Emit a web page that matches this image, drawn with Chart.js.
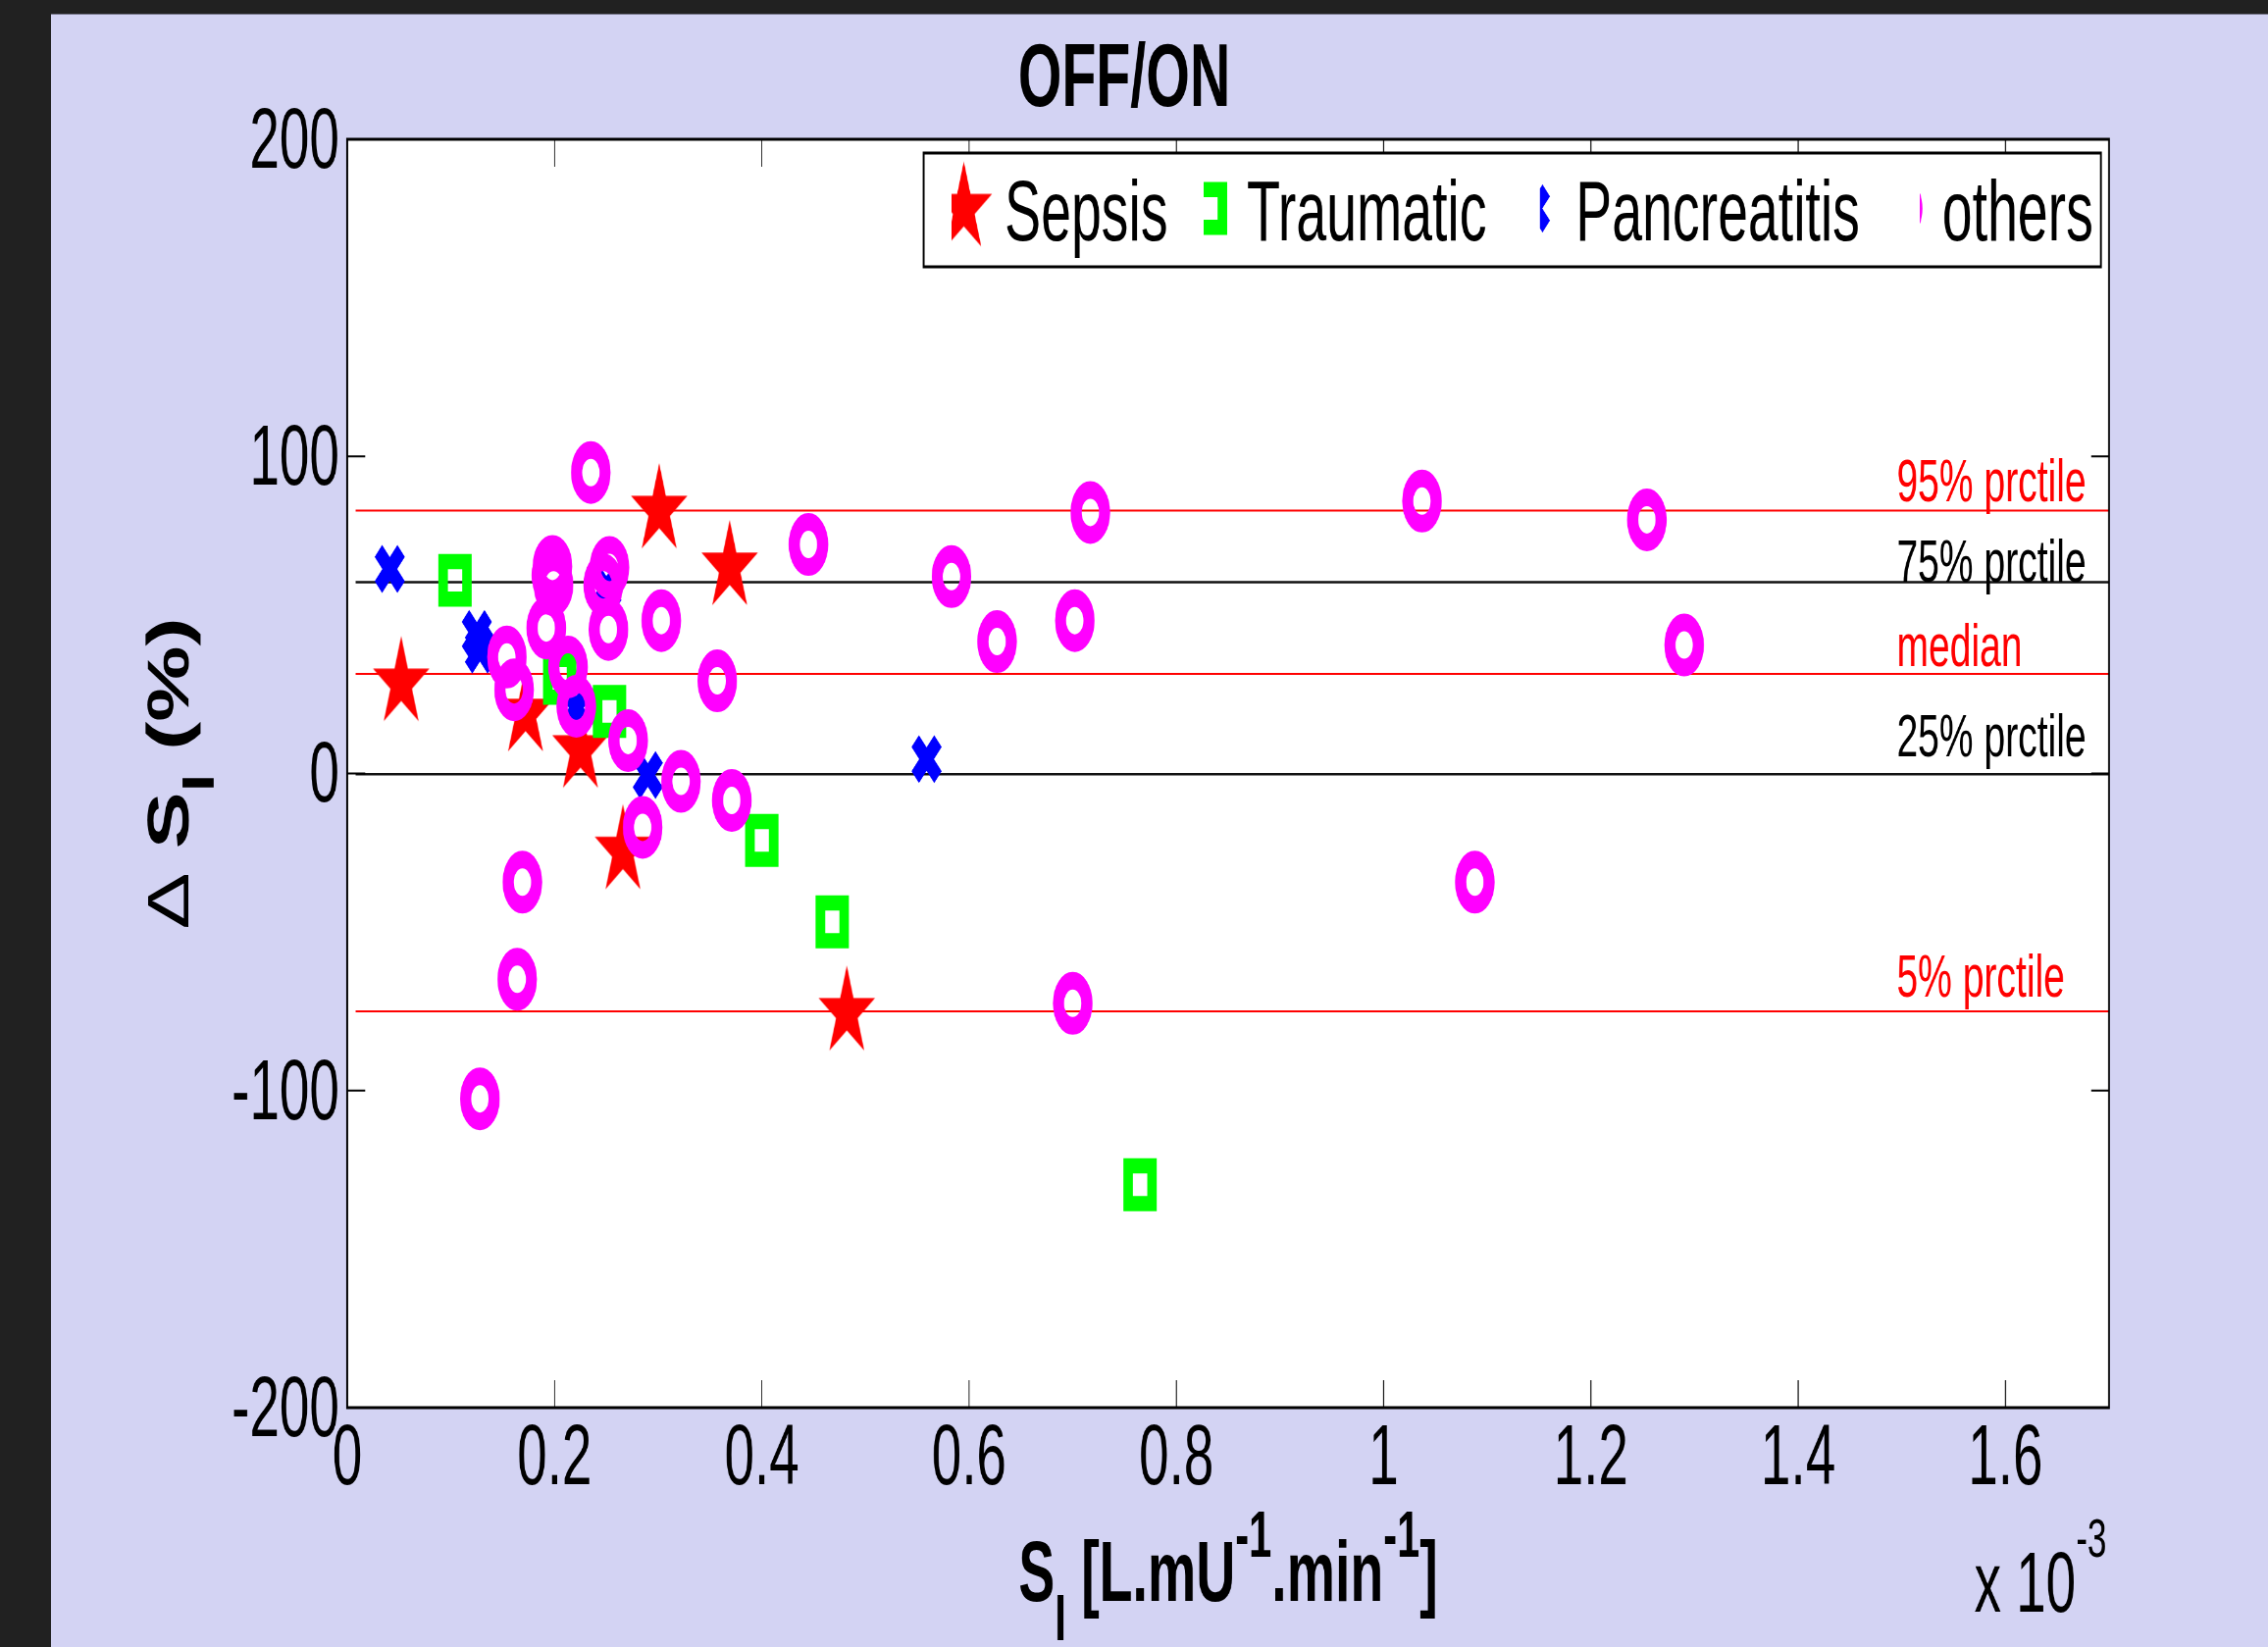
<!DOCTYPE html>
<html>
<head>
<meta charset="utf-8">
<title>OFF/ON</title>
<script src="https://cdn.jsdelivr.net/npm/chart.js@4.4.1/dist/chart.umd.min.js"></script>
<style>
    html, body { margin: 0; padding: 0; background: #212121; }
    body { width: 2312px; height: 1679px; position: relative; overflow: hidden; }
    #frame {
        position: absolute; left: 52px; top: 15px;
        width: 2260px; height: 1664px;
        background: #d3d3f3; overflow: hidden;
        box-shadow: 0 -1px 0 #77778a;
    }
    #stretch { height: 1664px; transform-origin: 0 0; }
</style>
</head>
<body>
<div id="frame"><div id="stretch"><canvas id="chart"></canvas></div></div>
<script>
// --- Data (x in units of 1e-3 L.mU^-1.min^-1, y in %) ---
const xTicks = [0, 0.2, 0.4, 0.6, 0.8, 1, 1.2, 1.4, 1.6];
const yTicks = [-200, -100, 0, 100, 200];

const sepsisX = [0.052, 0.172, 0.225, 0.266, 0.301, 0.369, 0.482];
const sepsisY = [28.5, 19, 7.5, -24.5, 83.0, 65.1, -75.4];

const traumaticX = [0.104, 0.205, 0.253, 0.400, 0.468, 0.765];
const traumaticY = [60.9, 30, 19.6, -21.1, -46.8, -129.7];

const pancreatitisX = [0.041, 0.125, 0.128, 0.250, 0.221, 0.290, 0.559];
const pancreatitisY = [64.5, 44, 39, 58.5, 20.7, -0.5, 4.5];

const othersX = [0.198, 0.197, 0.199, 0.192, 0.235, 0.253, 0.247, 0.252, 0.303, 0.357,
                 0.445, 0.154, 0.161, 0.213, 0.221, 0.271, 0.322, 0.371, 0.285, 0.169,
                 0.164, 0.128, 0.583, 0.627, 0.717, 0.702, 0.700, 1.037, 1.254, 1.290,
                 1.088];
const othersY = [65.3, 62.5, 59.5, 45.9, 94.9, 65, 59.5, 45.4, 48.2, 29.2,
                 72.2, 36.7, 26.4, 33.6, 21.2, 10.4, -2.5, -8.5, -17.0, -34.3,
                 -64.9, -102.6, 62.1, 41.6, 82.3, 48.2, -72.5, 85.9, 80.0, 40.5,
                 -34.3];

const prctileNames = ['95% prctile', '75% prctile', 'median', '25% prctile', '5% prctile'];
const prctileValues = [82.9, 60.3, 31.4, -0.2, -75.0];
const prctileLabelY = [85.8, 60.5, 33.9, 5.4, -70.4];
const prctileLabelX = 1.495;
const prctileRange = [0.008, 1.7];

const legendNames = ['Sepsis', 'Traumatic', 'Pancreatitis', 'others'];

// --- Look ---
// The original figure is squeezed horizontally, so the canvas is drawn wide and scaled down.
const S = 0.63;
const VIS_W = 2260;
const LOGICAL_W = VIS_W / S;
const FONT = '"Liberation Sans", Arial, Helvetica, sans-serif';
const RED = '#ff0000', GREEN = '#00ff00', BLUE = '#0000ff', MAGENTA = '#ff00ff';
const prctileColors = [RED, '#111111', RED, '#111111', RED];

document.getElementById('stretch').style.width = LOGICAL_W + 'px';
document.getElementById('stretch').style.transform = 'scaleX(' + S + ')';

const toPoints = (xs, ys) => xs.map((x, i) => ({ x: x, y: ys[i] }));

// filled five-point star used as the Sepsis marker
const makeStar = (R, color) => {
    const c = document.createElement('canvas');
    const size = Math.ceil(2 * R + 4);
    c.width = size; c.height = size;
    const g = c.getContext('2d');
    const cx = size / 2, cy = size / 2, r = R * 0.382;
    g.beginPath();
    for (let i = 0; i < 10; i++) {
        const rad = i % 2 === 0 ? R : r;
        const a = -Math.PI / 2 + i * Math.PI / 5;
        g.lineTo(cx + rad * Math.cos(a), cy + rad * Math.sin(a));
    }
    g.closePath();
    g.fillStyle = color;
    g.fill();
    return c;
};
const starImg = makeStar(48, RED);

const markers = {
    sepsis: { pointStyle: starImg, radius: 10, borderWidth: 0, fill: RED, stroke: RED },
    traumatic: { pointStyle: 'rect', radius: 27.2, borderWidth: 15.5, fill: 'rgba(0,0,0,0)', stroke: GREEN },
    pancreatitis: { pointStyle: 'crossRot', radius: 26, borderWidth: 17, fill: BLUE, stroke: BLUE },
    others: { pointStyle: 'circle', radius: 23, borderWidth: 18, fill: 'rgba(0,0,0,0)', stroke: MAGENTA }
};

const scatterSet = (label, pts, m, order) => ({
    label: label,
    data: pts,
    pointStyle: m.pointStyle,
    pointRadius: m.radius,
    pointBorderWidth: m.borderWidth,
    pointBackgroundColor: m.fill,
    pointBorderColor: m.stroke,
    showLine: false,
    order: order
});

const prctileSets = prctileValues.map((v, i) => ({
    label: prctileNames[i],
    data: [{ x: prctileRange[0], y: v }, { x: prctileRange[1], y: v }],
    showLine: true,
    borderColor: prctileColors[i],
    borderWidth: i % 2 === 0 ? 2 : 2.5,
    pointRadius: 0,
    order: 10
}));

// --- Text helpers ---
const fontStr = r => (r.bold ? 'bold ' : '') + r.size + 'px ' + FONT;
const runsWidth = (ctx, runs) => {
    let w = 0;
    runs.forEach(r => { ctx.font = fontStr(r); w += ctx.measureText(r.text).width; });
    return w;
};
const drawRuns = (ctx, runs, x, y) => {
    runs.forEach(r => {
        ctx.font = fontStr(r);
        ctx.fillText(r.text, x, y + (r.dy || 0));
        x += ctx.measureText(r.text).width;
    });
};

// MATLAB-like decorations: white axes, box, inward ticks, texts, legend
const matlabPlugin = {
    id: 'matlab',
    beforeDraw(chart) {
        const { ctx, chartArea: a } = chart;
        ctx.save();
        ctx.fillStyle = '#ffffff';
        ctx.fillRect(a.left, a.top, a.right - a.left, a.bottom - a.top);
        ctx.restore();
    },
    afterDatasetsDraw(chart) {
        const { ctx, chartArea: a, scales } = chart;
        const xs = scales.x, ys = scales.y;
        ctx.save();

        // percentile labels
        ctx.textAlign = 'left';
        ctx.textBaseline = 'alphabetic';
        prctileNames.forEach((name, i) => {
            ctx.fillStyle = prctileColors[i] === RED ? RED : '#000000';
            ctx.font = '62px ' + FONT;
            ctx.fillText(name, xs.getPixelForValue(prctileLabelX), ys.getPixelForValue(prctileLabelY[i]));
        });

        // axes box
        ctx.strokeStyle = '#000000';
        ctx.lineWidth = 3;
        ctx.strokeRect(a.left, a.top, a.right - a.left, a.bottom - a.top);

        // inward ticks on all four sides
        ctx.lineWidth = 1.6;
        xs.ticks.forEach(t => {
            const px = xs.getPixelForValue(t.value);
            ctx.beginPath();
            ctx.moveTo(px, a.bottom); ctx.lineTo(px, a.bottom - 28);
            ctx.moveTo(px, a.top); ctx.lineTo(px, a.top + 28);
            ctx.stroke();
        });
        ctx.lineWidth = 2;
        ys.ticks.forEach(t => {
            const py = ys.getPixelForValue(t.value);
            ctx.beginPath();
            ctx.moveTo(a.left, py); ctx.lineTo(a.left + 29, py);
            ctx.moveTo(a.right, py); ctx.lineTo(a.right - 29, py);
            ctx.stroke();
        });

        // legend box
        const box = { left: 1412, right: 3317, top: 141, bottom: 257 };
        ctx.fillStyle = '#ffffff';
        ctx.fillRect(box.left, box.top, box.right - box.left, box.bottom - box.top);
        ctx.strokeStyle = '#000000';
        ctx.lineWidth = 3;
        ctx.strokeRect(box.left, box.top, box.right - box.left, box.bottom - box.top);

        const legendMarks = [markers.sepsis, markers.traumatic, markers.pancreatitis, markers.others];
        const markCx = [1477, 1876, 2401, 2996];
        const markClip = [1457, 1865, 2409, 3024];
        const textX = [1543, 1935, 2467, 3060];
        legendMarks.forEach((m, i) => {
            ctx.save();
            ctx.beginPath();
            ctx.rect(markClip[i], box.top + 2, 200, box.bottom - box.top - 4);
            ctx.clip();
            ctx.fillStyle = m.fill;
            ctx.strokeStyle = m.stroke;
            ctx.lineWidth = m.borderWidth;
            Chart.helpers.drawPoint(ctx, {
                pointStyle: m.pointStyle, radius: m.radius, borderWidth: m.borderWidth, rotation: 0
            }, markCx[i], 197.5);
            ctx.restore();
            ctx.fillStyle = '#000000';
            ctx.font = '88px ' + FONT;
            ctx.textAlign = 'left';
            ctx.fillText(legendNames[i], textX[i], 230);
        });

        ctx.restore();
    },
    afterDraw(chart) {
        const { ctx, chartArea: a } = chart;
        ctx.save();
        ctx.fillStyle = '#000000';
        ctx.textBaseline = 'alphabetic';
        ctx.textAlign = 'left';

        // title
        ctx.font = 'bold 91px ' + FONT;
        ctx.textAlign = 'center';
        ctx.fillText('OFF/ON', 1736.5, 93);
        ctx.textAlign = 'left';

        // x label
        const xRuns = [
            { text: 'S', size: 88, bold: true },
            { text: 'I', size: 66, bold: true, dy: 40 },
            { text: ' [L.mU', size: 88, bold: true },
            { text: '-1', size: 66, bold: true, dy: -45 },
            { text: '.min', size: 88, bold: true },
            { text: '-1', size: 66, bold: true, dy: -45 },
            { text: ']', size: 88, bold: true }
        ];
        const xw = runsWidth(ctx, xRuns);
        drawRuns(ctx, xRuns, (a.left + a.right) / 2 - xw / 2, 1617);

        // exponent note
        drawRuns(ctx, [
            { text: 'x 10', size: 87 },
            { text: '-3', size: 56, dy: -56 }
        ], 3112, 1628);

        // y label (rotated)
        const yRuns = [
            { text: '\u0394 ', size: 87 },
            { text: 'S', size: 87, bold: true },
            { text: 'I', size: 66, bold: true, dy: 38 },
            { text: ' (%)', size: 87, bold: true }
        ];
        const yw = runsWidth(ctx, yRuns);
        ctx.translate(221.7, (a.top + a.bottom) / 2);
        ctx.rotate(-Math.PI / 2);
        ctx.scale(1, 1.09);
        drawRuns(ctx, yRuns, -yw / 2, 0);
        ctx.restore();
    }
};

const tickFont = { family: FONT, size: 87, lineHeight: 1 };

new Chart(document.getElementById('chart'), {
    type: 'scatter',
    data: {
        datasets: [
            scatterSet('Sepsis', toPoints(sepsisX, sepsisY), markers.sepsis, 4),
            scatterSet('Traumatic', toPoints(traumaticX, traumaticY), markers.traumatic, 3),
            scatterSet('Pancreatitis', toPoints(pancreatitisX, pancreatitisY), markers.pancreatitis, 2),
            scatterSet('others', toPoints(othersX, othersY), markers.others, 1),
            ...prctileSets
        ]
    },
    options: {
        responsive: true,
        maintainAspectRatio: false,
        animation: false,
        events: [],
        layout: {
            padding: { left: 0, right: LOGICAL_W - 2098 / S, top: 127, bottom: 94 }
        },
        plugins: {
            legend: { display: false },
            tooltip: { enabled: false },
            title: { display: false }
        },
        scales: {
            x: {
                type: 'linear',
                min: 0,
                max: 1.7,
                afterBuildTicks: s => { s.ticks = xTicks.map(v => ({ value: v })); },
                afterFit: s => { s.height = 150; },
                grid: { display: false, drawTicks: false },
                border: { display: false },
                ticks: {
                    padding: 11,
                    color: '#000000',
                    font: tickFont,
                    autoSkip: false,
                    maxRotation: 0,
                    callback: v => String(v)
                }
            },
            y: {
                type: 'linear',
                min: -200,
                max: 200,
                afterBuildTicks: s => { s.ticks = yTicks.map(v => ({ value: v })); },
                afterFit: s => { s.width = 302 / S; },
                grid: { display: false, drawTicks: false },
                border: { display: false },
                ticks: {
                    padding: 13,
                    labelOffset: 5,
                    color: '#000000',
                    font: tickFont,
                    callback: v => String(v)
                }
            }
        }
    },
    plugins: [matlabPlugin]
});
</script>
</body>
</html>
